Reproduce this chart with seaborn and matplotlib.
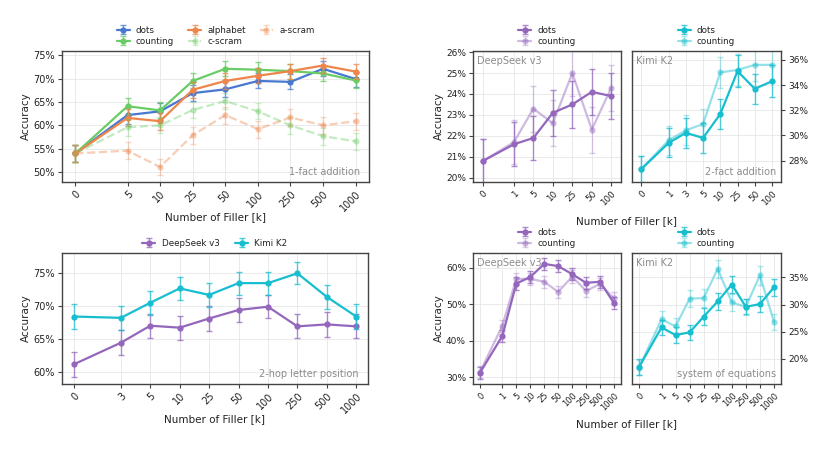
import numpy as np
import pandas as pd
import matplotlib
matplotlib.use("Agg")
import matplotlib.pyplot as plt
import seaborn as sns
from matplotlib.container import ErrorbarContainer
from matplotlib.ticker import PercentFormatter, MultipleLocator

# ---------------- data ----------------
# 1-fact addition (top-left)
fa_filler = ["0", "5", "10", "25", "50", "100", "250", "500", "1000"]
fa_dots = [54.0, 62.2, 63.0, 66.9, 67.7, 69.5, 69.3, 72.1, 69.9]
fa_dots_err = [1.8, 1.8, 1.8, 1.7, 1.7, 1.6, 1.6, 1.6, 1.6]
fa_counting = [54.0, 64.1, 63.2, 69.5, 72.1, 71.9, 71.6, 71.1, 69.6]
fa_counting_err = [1.8, 1.7, 1.7, 1.6, 1.6, 1.6, 1.6, 1.6, 1.6]
fa_alphabet = [54.0, 61.6, 60.9, 67.6, 69.5, 70.6, 71.6, 72.8, 71.5]
fa_alphabet_err = [1.8, 1.8, 1.8, 1.7, 1.7, 1.6, 1.6, 1.6, 1.6]
fa_cscram = [54.0, 59.6, 60.0, 63.3, 65.2, 63.0, 60.0, 57.7, 56.6]
fa_cscram_err = [1.8, 1.8, 1.7, 1.7, 1.7, 1.7, 1.8, 1.8, 1.8]
fa_ascram = [54.0, 54.6, 51.1, 57.9, 62.2, 59.2, 61.7, 60.0, 60.9]
fa_ascram_err = [1.8, 1.8, 1.8, 1.8, 1.8, 1.8, 1.8, 1.8, 1.8]

# 2-hop letter position (bottom-left)
hop_filler = ["0", "3", "5", "10", "25", "50", "100", "250", "500", "1000"]
hop_deepseek = [61.1, 64.4, 67.0, 66.7, 68.1, 69.4, 69.9, 66.9, 67.2, 66.9]
hop_deepseek_err = [1.95, 1.9, 1.85, 1.85, 1.85, 1.8, 1.8, 1.85, 1.85, 1.85]
hop_kimi = [68.4, 68.2, 70.5, 72.7, 71.7, 73.5, 73.5, 75.0, 71.4, 68.4]
hop_kimi_err = [1.85, 1.85, 1.8, 1.75, 1.8, 1.75, 1.75, 1.7, 1.8, 1.85]

# 2-fact addition (top-right)
tf_ds_filler = ["0", "1", "5", "10", "25", "50", "100"]
tf_ds_dots = [20.8, 21.6, 21.9, 23.1, 23.5, 24.1, 23.9]
tf_ds_dots_err = [1.05, 1.05, 1.05, 1.1, 1.1, 1.1, 1.1]
tf_ds_counting = [20.8, 21.7, 23.3, 22.6, 25.0, 22.3, 24.3]
tf_ds_counting_err = [1.05, 1.05, 1.1, 1.1, 1.1, 1.1, 1.1]
tf_kimi_filler = ["0", "1", "3", "5", "10", "25", "50", "100"]
tf_kimi_dots = [27.3, 29.4, 30.2, 29.8, 31.7, 35.1, 33.7, 34.3]
tf_kimi_dots_err = [1.1, 1.15, 1.2, 1.2, 1.2, 1.25, 1.2, 1.25]
tf_kimi_counting = [27.3, 29.6, 30.4, 30.9, 35.0, 35.2, 35.6, 35.6]
tf_kimi_counting_err = [1.1, 1.15, 1.2, 1.2, 1.25, 1.25, 1.25, 1.25]

# system of equations (bottom-right)
se_filler = ["0", "1", "5", "10", "25", "50", "100", "250", "500", "1000"]
se_ds_dots = [31.2, 41.3, 55.7, 57.5, 61.1, 60.5, 58.3, 55.9, 56.2, 50.3]
se_ds_dots_err = [1.7, 1.7, 1.7, 1.7, 1.6, 1.6, 1.7, 1.7, 1.7, 1.7]
se_ds_counting = [31.4, 44.1, 57.0, 57.0, 56.2, 53.4, 57.6, 53.7, 55.6, 51.6]
se_ds_counting_err = [1.7, 1.7, 1.7, 1.7, 1.7, 1.7, 1.7, 1.7, 1.7, 1.7]
se_kimi_dots = [18.5, 25.8, 24.4, 24.9, 27.8, 30.6, 33.7, 29.6, 30.1, 33.2]
se_kimi_dots_err = [1.5, 1.4, 1.4, 1.4, 1.5, 1.6, 1.6, 1.4, 1.5, 1.6]
se_kimi_counting = [18.4, 27.3, 26.0, 31.1, 31.2, 36.6, 30.4, 29.6, 35.4, 26.8]
se_kimi_counting_err = [1.4, 1.5, 1.5, 1.6, 1.6, 1.7, 1.6, 1.5, 1.7, 1.5]

# ---------------- style ----------------
BLUE, ORANGE, GREEN = "#4878d0", "#ee854a", "#6acc64"
PURPLE, CYAN = "#9467bd", "#17becf"
EDGE = "#444444"

sns.set_theme(style="whitegrid", rc={
    "axes.edgecolor": EDGE,
    "axes.linewidth": 1.0,
    "grid.color": "#e6e6e6",
    "grid.linewidth": 0.6,
    "xtick.bottom": True,
    "ytick.left": True,
    "xtick.color": EDGE,
    "ytick.color": EDGE,
    "xtick.major.size": 3,
    "ytick.major.size": 3,
    "xtick.major.width": 0.8,
    "ytick.major.width": 0.8,
    "xtick.major.pad": 2,
    "ytick.major.pad": 2,
    "text.color": "#222222",
    "xtick.labelcolor": "#222222",
    "ytick.labelcolor": "#222222",
})
plt.rcParams["font.family"] = ["DejaVu Sans"]


def positions(n):
    return [0.0] + [1.6 + i for i in range(n - 1)]


def draw(ax, labels, y, err, color, name, alpha=1.0, ls="-"):
    x = positions(len(labels))
    df = pd.DataFrame({"x": x, "y": y})
    sns.lineplot(data=df, x="x", y="y", ax=ax, color=color, alpha=alpha,
                 linestyle=ls, linewidth=1.6, marker="o", markersize=4.5,
                 markeredgewidth=0, legend=False, errorbar=None)
    line = ax.lines[-1]
    eb = ax.errorbar(x, y, yerr=err, fmt="none", ecolor=color, elinewidth=1.0,
                     capsize=2, capthick=1.0, alpha=alpha * 0.75)
    return ErrorbarContainer((line, eb.lines[1], eb.lines[2]),
                             has_xerr=False, has_yerr=True, label=name)


def setup(ax, labels, xmargin, ylim, ystep, fsx, fsy, ylabel=True, right=False):
    x = positions(len(labels))
    ax.set_xticks(x)
    ax.set_xticklabels(labels, rotation=45, ha="right",
                       rotation_mode="anchor", fontsize=fsx)
    ax.set_xlim(x[0] - xmargin, x[-1] + xmargin)
    ax.set_ylim(*ylim)
    ax.yaxis.set_major_locator(MultipleLocator(ystep))
    ax.yaxis.set_major_formatter(PercentFormatter(decimals=0))
    ax.tick_params(axis="y", labelsize=fsy)
    ax.set_xlabel("")
    if ylabel:
        ax.set_ylabel("Accuracy", fontsize=7.5, labelpad=1.5)
    else:
        ax.set_ylabel("")
    if right:
        ax.yaxis.tick_right()
    ax.grid(True, which="major")
    for s in ax.spines.values():
        s.set_color(EDGE)


def corner(ax, text, where="br", fs=7):
    if where == "br":
        ax.text(0.97, 0.04, text, transform=ax.transAxes, ha="right",
                va="bottom", color="#8c8c8c", fontsize=fs)
    else:
        ax.text(0.03, 0.96, text, transform=ax.transAxes, ha="left",
                va="top", color="#8c8c8c", fontsize=fs)


W, H = 829, 453
fig = plt.figure(figsize=(W / 100, H / 100), dpi=100)


def axes_px(l, t, r, b):
    return fig.add_axes([l / W, 1 - b / H, (r - l) / W, (b - t) / H])


leg_kw = dict(frameon=False, fontsize=6.3, handlelength=1.5,
              labelspacing=0.25, borderaxespad=0.2, handletextpad=0.7)

# ---- top-left: 1-fact addition
ax = axes_px(62, 51, 369, 182)
h = []
h.append(draw(ax, fa_filler, fa_dots, fa_dots_err, BLUE, "dots"))
h.append(draw(ax, fa_filler, fa_counting, fa_counting_err, GREEN, "counting"))
h.append(draw(ax, fa_filler, fa_alphabet, fa_alphabet_err, ORANGE, "alphabet"))
h.append(draw(ax, fa_filler, fa_cscram, fa_cscram_err, GREEN, "c-scram", alpha=0.4, ls="--"))
h.append(draw(ax, fa_filler, fa_ascram, fa_ascram_err, ORANGE, "a-scram", alpha=0.4, ls="--"))
setup(ax, fa_filler, 0.41, (47.9, 75.9), 5, 7, 7)
corner(ax, "1-fact addition")
ax.legend(handles=h, ncol=3, loc="lower center", bbox_to_anchor=(0.5, 1.0),
          columnspacing=1.6, **leg_kw)
fig.text(215.5 / W, 1 - 217 / H, "Number of Filler [k]", ha="center",
         va="center", fontsize=7.5)

# ---- bottom-left: 2-hop letter position
ax = axes_px(62, 253, 368, 384)
h = []
h.append(draw(ax, hop_filler, hop_deepseek, hop_deepseek_err, PURPLE, "DeepSeek v3"))
h.append(draw(ax, hop_filler, hop_kimi, hop_kimi_err, CYAN, "Kimi K2"))
setup(ax, hop_filler, 0.40, (58.1, 78.1), 5, 7, 7)
corner(ax, "2-hop letter position")
ax.legend(handles=h, ncol=2, loc="lower center", bbox_to_anchor=(0.5, 1.0),
          columnspacing=1.8, **leg_kw)
fig.text(215 / W, 1 - 419 / H, "Number of Filler [k]", ha="center",
         va="center", fontsize=7.5)

# ---- top-right: 2-fact addition
ax = axes_px(473, 51, 621, 182)
h = []
h.append(draw(ax, tf_ds_filler, tf_ds_dots, tf_ds_dots_err, PURPLE, "dots"))
h.append(draw(ax, tf_ds_filler, tf_ds_counting, tf_ds_counting_err, PURPLE, "counting", alpha=0.45))
setup(ax, tf_ds_filler, 0.5, (19.8, 26.05), 1, 6.3, 6.5)
corner(ax, "DeepSeek v3", "tl")
ax.legend(handles=h, ncol=1, loc="lower center", bbox_to_anchor=(0.5, 1.0), **leg_kw)

ax = axes_px(632, 51, 781, 182)
h = []
h.append(draw(ax, tf_kimi_filler, tf_kimi_dots, tf_kimi_dots_err, CYAN, "dots"))
h.append(draw(ax, tf_kimi_filler, tf_kimi_counting, tf_kimi_counting_err, CYAN, "counting", alpha=0.45))
setup(ax, tf_kimi_filler, 0.52, (26.3, 36.7), 2, 6.3, 6.5, ylabel=False, right=True)
corner(ax, "Kimi K2", "tl")
corner(ax, "2-fact addition")
ax.legend(handles=h, ncol=1, loc="lower center", bbox_to_anchor=(0.5, 1.0), **leg_kw)
fig.text(627 / W, 1 - 221 / H, "Number of Filler [k]", ha="center",
         va="center", fontsize=7.5)

# ---- bottom-right: system of equations
ax = axes_px(473, 253, 621, 384)
h = []
h.append(draw(ax, se_filler, se_ds_dots, se_ds_dots_err, PURPLE, "dots"))
h.append(draw(ax, se_filler, se_ds_counting, se_ds_counting_err, PURPLE, "counting", alpha=0.45))
setup(ax, se_filler, 0.5, (28.1, 64.1), 10, 6.0, 6.5)
corner(ax, "DeepSeek v3", "tl")
ax.legend(handles=h, ncol=1, loc="lower center", bbox_to_anchor=(0.5, 1.0), **leg_kw)

ax = axes_px(632, 253, 781, 384)
h = []
h.append(draw(ax, se_filler, se_kimi_dots, se_kimi_dots_err, CYAN, "dots"))
h.append(draw(ax, se_filler, se_kimi_counting, se_kimi_counting_err, CYAN, "counting", alpha=0.45))
setup(ax, se_filler, 0.5, (15.4, 39.5), 5, 6.0, 6.5, ylabel=False, right=True)
corner(ax, "Kimi K2", "tl")
corner(ax, "system of equations")
ax.legend(handles=h, ncol=1, loc="lower center", bbox_to_anchor=(0.5, 1.0), **leg_kw)
fig.text(627 / W, 1 - 424 / H, "Number of Filler [k]", ha="center",
         va="center", fontsize=7.5)

fig.savefig("out.png", dpi=100)
